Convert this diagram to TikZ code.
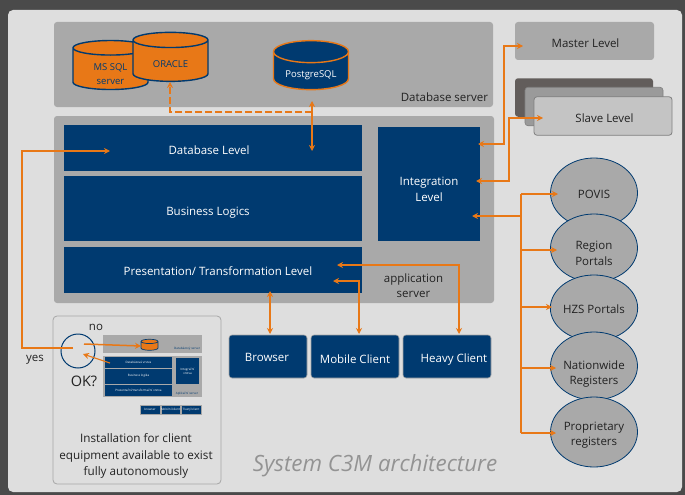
\documentclass[tikz,border=0pt]{standalone}
\usepackage{fontspec}
\setmainfont{Open Sans}
\usetikzlibrary{arrows.meta, positioning, shapes.geometric}
\definecolor{navy}{HTML}{003A70}
\definecolor{amber}{HTML}{E87817}
\definecolor{panel}{HTML}{A9A9A9}
\definecolor{sheet}{HTML}{DEDEDE}
\definecolor{frame}{HTML}{4A4A4A}
\definecolor{ink}{HTML}{222222}
\definecolor{slavedark}{HTML}{625D5B}
\definecolor{slavemiddle}{HTML}{9A9A9A}
\definecolor{slavelight}{HTML}{C4C4C4}
\newcommand{\dropby}[1]{\rule{0pt}{\dimexpr 9pt+#1pt+#1pt\relax}}
\newcommand{\nudge}[2]{\makebox[0pt]{\hspace*{\dimexpr #1pt+#1pt\relax}#2}}
\newcommand{\cyltext}[2]{\raisebox{-#1pt}[0pt][0pt]{#2}}

\begin{document}
\begin{tikzpicture}[x=1pt, y=-1pt,
  every node/.style={outer sep=0pt, inner sep=0pt, font=\fontsize{11.5}{15.5}\selectfont, align=center},
  panelbox/.style={rounded corners=3pt, fill=panel, text=ink},
  level/.style={fill=navy, text=white},
  client/.style={fill=navy, text=white, draw=gray!70, line width=0.6pt, rounded corners=3pt, minimum width=88, minimum height=43},
  slavebox/.style={rounded corners=3pt, minimum width=138, minimum height=38.5},
  reg/.style={ellipse, draw=navy, line width=0.8pt, fill=panel, text=ink, minimum width=87},
  db/.style={cylinder, shape border rotate=90, aspect=0.43, line width=1.4pt, cylinder uses custom fill, minimum width=75, minimum height=49, font=\fontsize{9.5}{14}\selectfont},
  minilevel/.style={fill=navy, text=white, font=\fontsize{3}{4}\selectfont},
  tinytext/.style={font=\fontsize{3}{4}\selectfont},
  link/.style={draw=amber, line width=1.1pt, arrows={-Stealth[length=6pt,width=6pt]}},
  dlink/.style={draw=amber, line width=1.1pt, arrows={Stealth[length=6pt,width=6pt]-Stealth[length=6pt,width=6pt]}}]
  \useasboundingbox (0,0) rectangle (685,495);
  \fill[frame] (0,0) rectangle (685,495);
  \fill[sheet, rounded corners=5pt] (8,10) rectangle (682,492);

  % panels
  \node[panelbox, minimum width=439, minimum height=85] (dbpanel) at (273.5,64.5) {};
  \node[panelbox, minimum width=440, minimum height=187] (apppanel) at (274,209.5) {};
  \node[text=ink, anchor=east] (dbserver) at (488,97) {Database server};
  \node[text=ink] (appserver) at (413.5,285.5) {application\\server};

  % levels
  \node[level, minimum width=298, minimum height=46] (dblevel) at (213,148) {\dropby{2}\nudge{-4}{Database Level}};
  \node[level, minimum width=298, minimum height=65] (logic) at (213,208.5) {\dropby{4}\nudge{-5}{Business Logics}};
  \node[level, minimum width=298, minimum height=46] (presentation) at (213,270) {\dropby{1.5}\nudge{5}{Presentation/ Transformation Level}};
  \node[level, minimum width=102, minimum height=114] (integration) at (429,184) {\dropby{5}Integration\\Level};

  % databases
  \node[db, fill=amber, draw=navy, cylinder body fill=amber, cylinder end fill=amber, text=navy] (mssql) at (110.5,69) {\cyltext{7.5}{\begin{tabular}{@{}c@{}}MS SQL\\server\end{tabular}}};
  \node[db, fill=amber, draw=navy, cylinder body fill=amber, cylinder end fill=amber, text=navy] (oracle) at (170.5,61) {\cyltext{6.5}{ORACLE}};
  \node[db, draw=amber, cylinder body fill=navy, cylinder end fill=navy, text=white] (postgres) at (311,71) {\cyltext{6}{PostgreSQL}};

  % master and slaves
  \node[panelbox, minimum width=139, minimum height=38, text=ink] (master) at (584.5,41) {\dropby{2}\nudge{1}{Master Level}};
  \node[slavebox, fill=slavedark] (slaveback) at (584,97.5) {};
  \node[slavebox, fill=slavemiddle, draw=gray, line width=0.6pt] (slavemid) at (594,106.5) {};
  \node[slavebox, fill=slavelight, draw=gray, line width=0.8pt, text=ink] (slave) at (603,116) {\dropby{2}\nudge{1.5}{Slave Level}};

  % registers
  \node[reg, minimum height=70] (povis) at (594,193) {\dropby{1}POVIS};
  \node[reg, minimum height=68] (region) at (594,248) {\dropby{5}Region\\Portals};
  \node[reg, minimum height=66] (hzs) at (594,308) {\dropby{1}HZS Portals};
  \node[reg, minimum height=68] (nation) at (594,366) {\dropby{8}Nationwide\\Registers};
  \node[reg, minimum height=70] (proprietary) at (594,432) {\dropby{3}Proprietary\\registers};

  % clients
  \node[client, minimum width=78] (browser) at (268,356.5) {\dropby{1}\nudge{-1}{Browser}};
  \node[client, right=4 of browser] (mobile) {\dropby{2.5}Mobile Client};
  \node[client, right=4 of mobile] (heavy) {\dropby{2.5}\nudge{7}{Heavy Client}};

  % installation inset
  \node[draw=gray!70, line width=0.8pt, rounded corners=4pt, minimum width=168, minimum height=168] (install) at (137,400) {};
  \node[text=ink, font=\fontsize{11.7}{16.5}\selectfont] (installtext) at (136,456) {Installation for client\\equipment available to exist\\fully autonomously};
  \node[text=ink] (no) at (96,327) {no};
  \node[text=ink] (yes) at (35,360) {yes};
  \node[text=ink, font=\fontsize{14.5}{18}\selectfont] (ok) at (84,381) {OK?};
  \node[circle, draw=navy, line width=1pt, minimum width=34] (okcircle) at (78,351) {};
  \node[fill=panel, minimum width=99, minimum height=18] (minidb) at (152.5,344) {};
  \node[tinytext, text=navy, anchor=east] (miniserver) at (200,349) {Databázový server};
  \node[fill=panel, minimum width=99, minimum height=41] (miniapp) at (152.5,376.5) {};
  \node[tinytext, text=navy, anchor=east] (miniappserver) at (198,394) {Aplikační server};
  \node[minilevel, minimum width=67, minimum height=11] (minilevelone) at (138.5,362.5) {Databázová vrstva};
  \node[minilevel, minimum width=67, minimum height=15] (minileveltwo) at (138.5,376) {Business logika};
  \node[minilevel, minimum width=67, minimum height=11] (minilevelthree) at (138.5,390.5) {Prezentační/transformační vrstva};
  \node[minilevel, minimum width=23, minimum height=26] (miniintegration) at (187.5,371) {Integrační\\vrstva};
  \node[db, draw=navy, line width=0.7pt, cylinder body fill=amber, cylinder end fill=amber, minimum width=17, minimum height=11] (minicyl) at (149.5,346) {\hspace*{10pt}};
  \node[minilevel, draw=gray!70, line width=0.4pt, minimum width=20, minimum height=9] (miniboxa) at (150,409.5) {browser};
  \node[minilevel, draw=gray!70, line width=0.4pt, minimum width=19, minimum height=9, right=1 of miniboxa] (miniboxb) {Mobilní klient};
  \node[minilevel, draw=gray!70, line width=0.4pt, minimum width=20, minimum height=9, right=1 of miniboxb] (miniboxc) {Tlustý klient};

  \node[text=gray!85, font=\fontsize{22.4}{26}\itshape] (title) at (375,466) {System C3M architecture};

  % free ends
  \coordinate (dbtip) at (110,151);
  \coordinate (pgtip) at (312,151);
  \coordinate (masterin) at (478,144);
  \coordinate (slavein) at (476,181);
  \coordinate (regin) at (472,216);
  \coordinate (mobilein) at (333,281);
  \coordinate (heavyin) at (337,265);
  \coordinate (browserin) at (270,291);
  \coordinate (okin) at (83,354);
  \coordinate (okout) at (84,344);
  \coordinate (yesout) at (73,348);

  % connectors
  \draw[link] (yesout) -- (22,348) |- (dbtip);
  \draw[dlink] (312,101) -- (pgtip);
  \draw[link, dash pattern=on 7pt off 3pt] (312,112) -| (170,82);
  \draw[dlink] (masterin) -| (504,46) -- (523,46);
  \draw[dlink] (slavein) -| (509,118) -- (543,118);
  \draw[link] (521,216) -- (regin);
  \draw[amber, line width=1.1pt] (521,194) -- (521,433);
  \draw[link] (521,194) -- (558,194);
  \draw[link] (521,250) -- (557,250);
  \draw[link] (521,307) -- (552,307);
  \draw[link] (521,368) -- (556,368);
  \draw[link] (521,433) -- (556,433);
  \draw[dlink] (browserin) -- (270,334);
  \draw[dlink] (mobilein) -| (359,334);
  \draw[dlink] (heavyin) -| (459,334);
  \draw[link, line width=1.5pt] (okout) -- (minicyl.west);
  \draw[link] (110,363) -- (okin);
\end{tikzpicture}
\end{document}
